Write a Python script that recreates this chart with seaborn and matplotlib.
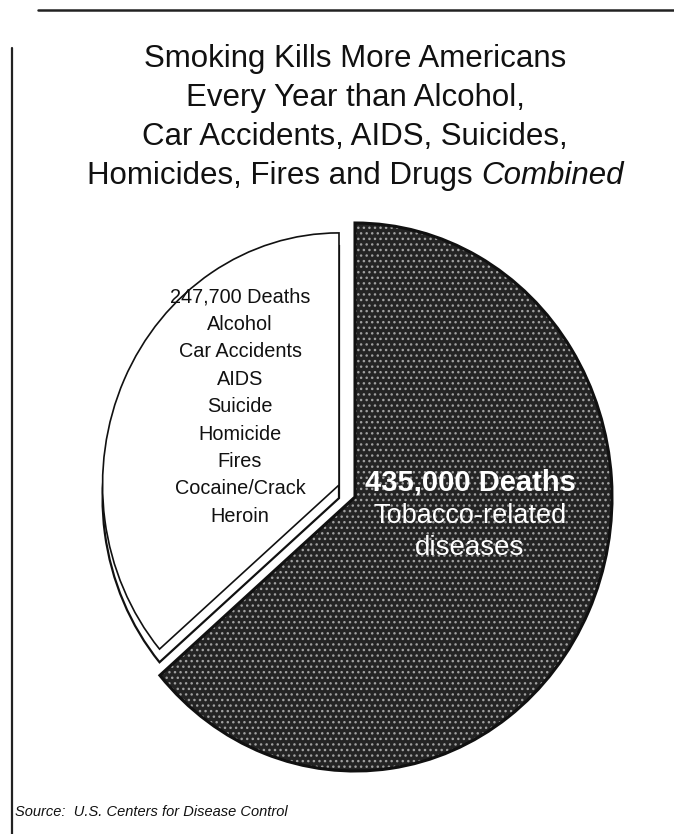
import matplotlib
matplotlib.use("Agg")
import matplotlib.pyplot as plt
import seaborn as sns
from matplotlib.patches import Wedge

sns.set_theme(style="white")
plt.rcParams['font.family'] = ['Liberation Sans', 'DejaVu Sans']

# ---- data ----
categories = ["Tobacco-related diseases", "Alcohol, accidents, AIDS, etc."]
deaths = [435000, 247700]
tobacco_lines = ["435,000 Deaths", "Tobacco-related", "diseases"]
other_lines = ["247,700 Deaths", "Alcohol", "Car Accidents", "AIDS", "Suicide",
               "Homicide", "Fires", "Cocaine/Crack", "Heroin"]
title_lines = ["Smoking Kills More Americans", "Every Year than Alcohol,",
               "Car Accidents, AIDS, Suicides,"]
title_last = "Homicides, Fires and Drugs "
title_last_italic = "Combined"
source_text = "Source:  U.S. Centers for Disease Control"

W, H = 674, 834
fig = plt.figure(figsize=(W / 100, H / 100), dpi=100)
fig.patch.set_facecolor("white")

def fx(x):
    return x / W

def fy(y):
    return 1 - y / H

# pie axes: 1 x unit = 257 px, 1 y unit = 274 px, centre at (355, 497) px
ax = fig.add_axes([0, 0, 1, 1])
cx, cy, rx, ry = 355, 497, 257, 274
wedges, _ = ax.pie(deaths, startangle=90, counterclock=False,
                   colors=["#242424", "white"], radius=1.0,
                   wedgeprops=dict(linewidth=0))
ax.set_xlim(-cx / rx, (W - cx) / rx)
ax.set_ylim(-(H - cy) / ry, cy / ry)
ax.set_aspect("auto")
ax.axis("off")

dark, light = wedges
# textured dark slice
dark.set_hatch("...")
dark.set_edgecolor("#a0a0a0")
dark.set_linewidth(0)
ax.add_patch(Wedge(dark.center, dark.r, dark.theta1, dark.theta2,
                   fill=False, edgecolor="#111111", linewidth=2.2, zorder=3))

# exploded white slice with a 3-D side face
off = ((339 - cx) / rx, (cy - 485) / ry)
light.set_center(off)
light.set_radius(0.92)
light.set_edgecolor("#111111")
light.set_linewidth(1.2)
light.set_zorder(5)
side = Wedge((off[0], off[1] - 0.048), 0.92, light.theta1, light.theta2,
             facecolor="white", edgecolor="#111111", linewidth=1.6, zorder=4)
ax.add_patch(side)

# slice labels
tob_sizes = [21, 19.5, 20]
for i, (t, y) in enumerate(zip(tobacco_lines, [483, 516, 548])):
    fig.text(fx(470), fy(y), t, ha="center", va="center", color="white",
             fontsize=tob_sizes[i], fontweight="bold" if i == 0 else "normal",
             zorder=10)
for i, t in enumerate(other_lines):
    fig.text(fx(240), fy(297 + i * 27.4), t, ha="center", va="center",
             color="#111111", fontsize=14.3, zorder=10)

# title
TS = 22.5
for i, t in enumerate(title_lines):
    fig.text(fx(355), fy(59 + i * 39), t, ha="center", va="center",
             color="#111111", fontsize=TS)
renderer = fig.canvas.get_renderer()
t1 = fig.text(0, fy(176), title_last, ha="left", va="center",
              color="#111111", fontsize=TS)
t2 = fig.text(0, fy(176), title_last_italic, ha="left", va="center",
              color="#111111", fontsize=TS, style="italic")
w1 = t1.get_window_extent(renderer).width
w2 = t2.get_window_extent(renderer).width
x0 = 355 - (w1 + w2) / 2
t1.set_x(fx(x0))
t2.set_x(fx(x0 + w1))

# source
fig.text(fx(15), fy(812), source_text, ha="left", va="center",
         color="#111111", fontsize=10.5, style="italic")

# frame lines
fig.add_artist(plt.Line2D([fx(38), fx(674)], [fy(10), fy(10)],
                          color="#222222", linewidth=1.8))
fig.add_artist(plt.Line2D([fx(12), fx(12)], [fy(48), fy(834)],
                          color="#222222", linewidth=1.6))

fig.savefig("out.png", dpi=100, facecolor="white")
